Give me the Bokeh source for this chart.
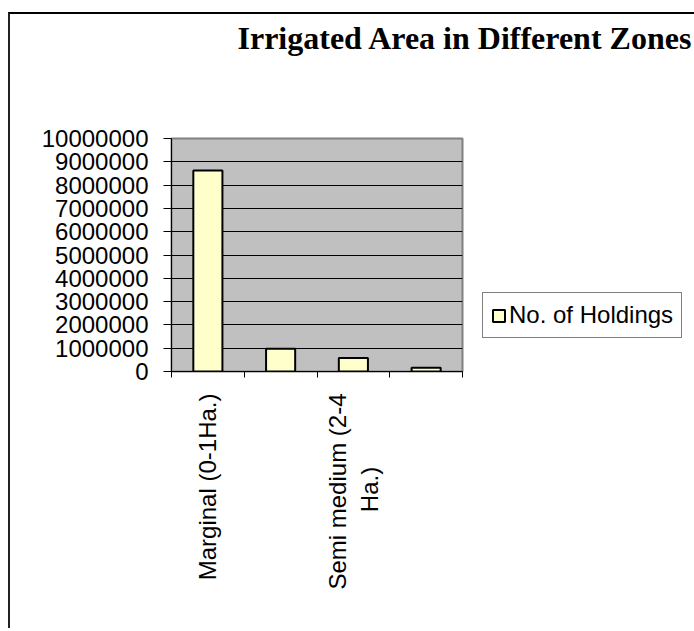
import math
from bokeh.plotting import figure
from bokeh.models import (FixedTicker, BasicTickFormatter, Legend, LegendItem,
                          ColumnDataSource, Range1d, Title)
from bokeh.embed import file_html
from bokeh.resources import INLINE

# ---- data ----
categories = ["Marginal (0-1Ha.)", "Small (1-2 Ha.)", "Semi medium (2-4 Ha.)", "Medium (4-10 Ha.)"]
shown_labels = ["Marginal (0-1Ha.)", "", "Semi medium (2-4\nHa.)" + "\u00a0" * 11, ""]
holdings = [8630000, 980000, 580000, 160000]
y_ticks = [0, 1000000, 2000000, 3000000, 4000000, 5000000,
           6000000, 7000000, 8000000, 9000000, 10000000]
series_name = "No. of Holdings"
title_text = "Irrigated Area in Different Zones"

n = len(categories)
centers = [i + 0.5 for i in range(n)]
bounds = [float(i) for i in range(n + 1)]
src = ColumnDataSource(dict(x=centers, top=holdings, cat=categories))

FRAME_L, FRAME_W = 161, 291
FRAME_T, FRAME_H = 124, 233
TOTAL_W, TOTAL_H = 684, 614
FONT = "Liberation Sans"
FS = "24px"

p = figure(frame_width=FRAME_W, frame_height=FRAME_H,
           min_border_left=FRAME_L, min_border_right=TOTAL_W - FRAME_L - FRAME_W,
           min_border_top=FRAME_T, min_border_bottom=TOTAL_H - FRAME_T - FRAME_H,
           x_range=Range1d(0, n), y_range=Range1d(y_ticks[0], y_ticks[-1]),
           output_backend="svg", toolbar_location=None)

p.styles = {"border-left": "2px solid #222222", "border-top": "2px solid black",
            "margin-top": "12px", "margin-left": "8px"}

p.background_fill_color = "#C0C0C0"
p.border_fill_color = "white"
p.outline_line_color = "#808080"
p.outline_line_width = 2

r = p.vbar(x="x", top="top", width=0.4, source=src,
           fill_color="#FFFFCC", line_color="black", line_width=2)

# spacer between frame and title (pushes the title up)
p.add_layout(Title(text="\u00a0", text_font_size="10px", standoff=68), "above")

# title
p.title.text = title_text
p.title.text_font = "Liberation Serif"
p.title.text_font_style = "bold"
p.title.text_font_size = "32px"
p.title.text_color = "black"
p.title.align = "left"
p.title.offset = 66
p.title.vertical_align = "top"
p.title.standoff = 0

# y axis
p.yaxis.ticker = FixedTicker(ticks=y_ticks)
p.yaxis.formatter = BasicTickFormatter(use_scientific=False)
p.yaxis.major_label_text_font = FONT
p.yaxis.major_label_text_font_size = FS
p.yaxis.major_label_text_color = "black"
p.yaxis.major_tick_out = 8
p.yaxis.major_tick_in = 0
p.yaxis.minor_tick_line_color = None
p.yaxis.axis_line_color = "black"
p.yaxis.major_tick_line_color = "black"
p.yaxis.major_label_standoff = 15

p.ygrid.ticker = FixedTicker(ticks=y_ticks)
p.ygrid.grid_line_color = "black"
p.ygrid.grid_line_width = 1
p.xgrid.grid_line_color = None

# x axis
p.xaxis.ticker = FixedTicker(ticks=centers, minor_ticks=bounds)
p.xaxis.major_label_overrides = {c: lab for c, lab in zip(centers, shown_labels)}
p.xaxis.major_label_orientation = math.pi / 2
p.xaxis.major_label_text_font = FONT
p.xaxis.major_label_text_font_size = FS
p.xaxis.major_label_text_color = "black"
p.xaxis.major_tick_out = 0
p.xaxis.major_tick_in = 0
p.xaxis.minor_tick_out = 6
p.xaxis.minor_tick_in = 0
p.xaxis.minor_tick_line_color = "black"
p.xaxis.axis_line_color = "black"
p.xaxis.major_label_standoff = 16

legend = Legend(items=[LegendItem(label=series_name, renderers=[r])],
                location=(20, 33))
legend.label_text_font = FONT
legend.label_text_font_size = FS
legend.label_text_color = "black"
legend.border_line_color = "black"
legend.border_line_width = 1
legend.background_fill_color = "white"
legend.background_fill_alpha = 1
legend.glyph_width = 15
legend.glyph_height = 15
legend.padding = 8
legend.label_standoff = 3
legend.margin = 0
p.add_layout(legend, "right")

open("out.html", "w").write(file_html(p, INLINE))
